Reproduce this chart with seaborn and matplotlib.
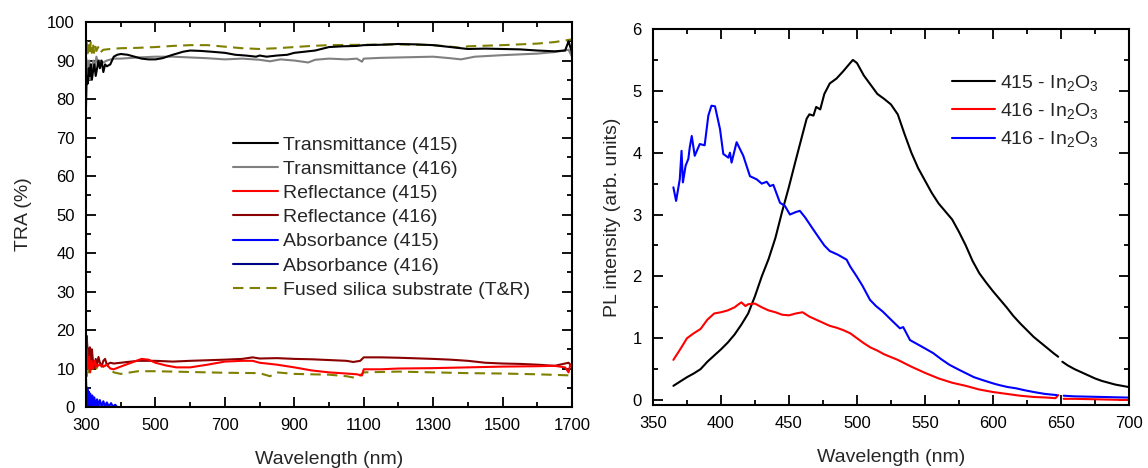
import numpy as np
import pandas as pd
import matplotlib
matplotlib.use("Agg")
import matplotlib.pyplot as plt
import seaborn as sns
from matplotlib.ticker import MultipleLocator, FixedLocator
from matplotlib.lines import Line2D

# ---------------- Left panel data (TRA %) ----------------
t415_wl = [300,302,305,308,311,314,317,320,324,328,332,336,340,345,350,355,360,370,380,390,400,420,440,460,480,500,520,550,580,600,630,660,700,730,760,790,800,820,850,880,900,930,960,1000,1040,1080,1100,1150,1200,1250,1300,1340,1380,1400,1450,1500,1550,1600,1650,1680,1690,1695,1700]
t415 = [78,86,84,88,86,89,85,87,89,86,88,90,88,90,87,89,88.5,89,91,91.5,91.7,91.5,91,90.5,90.3,90.3,90.6,91.5,92.3,92.6,92.5,92.3,92,91.5,91.3,91,91.3,91,91.3,91.5,92,92.3,92.6,93.5,93.7,93.8,94,94.1,94.3,94.2,94,93.6,93.2,93,93.1,93,92.9,92.6,92.4,92.6,95,93.5,92]

t416_wl = [300,303,306,309,312,315,318,321,325,330,335,340,350,360,380,400,450,500,550,600,650,700,750,800,830,860,900,940,960,1000,1050,1080,1095,1100,1150,1200,1300,1350,1380,1420,1500,1600,1650,1690,1700]
t416 = [88,90,86,90,85,89,87,90,88,91,89,90,89.5,90,90.5,90.5,90.8,91,91,90.8,90.6,90.3,90.5,90.2,89.8,90.3,90,89.5,90.2,90.5,90.3,90.5,89.7,90.5,90.7,90.8,91,90.6,90.3,91,91.4,91.8,92.2,92.8,91]

r415_wl = [300,303,306,309,312,316,320,325,330,340,350,360,370,380,400,430,460,480,500,530,560,600,650,700,750,780,800,850,900,950,1000,1050,1080,1095,1100,1150,1200,1300,1400,1500,1600,1650,1680,1690,1695,1700]
r415 = [12,15,10,13,9,12,10,12,10.5,11,10.5,11,10,9.8,10.5,11.5,12.5,12.3,11.5,10.8,10.3,10.3,11,11.8,12,12,11.5,11,10.3,9.5,9,8.7,8.5,8.2,9.8,9.8,10,10.1,10.3,10.5,10.6,10.7,10.3,9,11,10.5]

r416_wl = [300,302,305,308,311,314,317,320,324,328,332,336,340,345,350,355,360,370,380,400,450,500,550,600,700,750,780,800,850,900,950,1000,1050,1070,1090,1100,1150,1200,1300,1350,1400,1450,1500,1550,1600,1650,1690,1700]
r416 = [17,18.5,14,11,15.5,12,15,12,10,12.5,11,13,11.5,10.5,12,12.5,11,11.5,11.3,11.5,12,12,11.8,12,12.3,12.5,12.9,12.6,12.7,12.5,12.4,12.2,12,11.7,12,12.9,12.9,12.8,12.5,12.3,12,11.5,11.3,11.2,11,10.7,11.5,10.5]

a415_wl = [300,302,304,306,308,310,312,315,318,321,324,328,332,336,340,345,350,355,360,366,372,378,384,390]
a415 = [7.5,2,5,0.5,4,1,3.5,0.5,3,0.3,2.5,0.2,2,0.2,1.8,0.2,1.5,0.1,1.2,0.1,1,0.1,0.6,0]

a416_wl = [300,303,306,310,315,320,330,340,360,380]
a416 = [3,0.5,2,0.3,1,0.2,0.5,0.1,0.2,0]

subT_wl = [300,302,305,308,311,314,317,320,323,326,330,335,340,350,370,400,450,500,550,600,650,700,750,800,850,900,950,1000,1100,1200,1300,1350,1380,1400,1500,1600,1650,1700]
subT = [88,95.5,91,94,92,95,92,94.5,92,94,92.5,93.5,92,92.8,93,93.2,93.3,93.5,93.8,94,94,93.6,93.2,93,93.2,93.5,93.8,94,94.1,94.2,94,93.6,93.3,93.7,94,94.4,94.8,95.5]

subR_wl = [300,302,305,308,311,314,317,320,325,330,340,350,360,370,380,400,450,500,600,700,800,830,850,900,1000,1050,1080,1100,1200,1300,1400,1500,1600,1700]
subR = [14,8,12,9,13,10,12,9.5,11.5,10,11.5,10.5,11,9.8,9,8.6,9.3,9.3,9.1,8.9,8.8,8,9,8.6,8.4,8,7.5,9,9.2,9,8.8,8.7,8.5,8.2]

left_labels = ["Transmittance (415)", "Transmittance (416)", "Reflectance (415)",
               "Reflectance (416)", "Absorbance (415)", "Absorbance (416)",
               "Fused silica substrate (T&R)"]
left_xticks = [300, 500, 700, 900, 1100, 1300, 1500, 1700]

# ---------------- Right panel data (PL) ----------------
pl415_wl_a = [365,370,375,380,385,390,395,400,405,410,415,420,425,430,435,440,445,450,455,460,463,465,468,470,473,476,480,485,490,495,497,500,505,510,515,520,525,530,535,540,545,550,555,560,565,570,575,580,585,590,595,600,605,610,615,620,625,630,635,640,645,648]
pl415_a = [0.23,0.3,0.37,0.43,0.5,0.62,0.72,0.82,0.93,1.06,1.22,1.4,1.68,2.0,2.28,2.62,3.05,3.45,3.88,4.3,4.55,4.62,4.6,4.74,4.7,4.95,5.12,5.2,5.32,5.45,5.5,5.45,5.25,5.1,4.95,4.87,4.78,4.62,4.3,4.0,3.75,3.55,3.35,3.18,3.05,2.92,2.72,2.5,2.25,2.05,1.9,1.76,1.63,1.5,1.36,1.24,1.13,1.02,0.93,0.84,0.75,0.70]
pl415_wl_b = [651,655,660,665,670,675,680,685,690,695,700]
pl415_b = [0.62,0.56,0.5,0.45,0.4,0.35,0.31,0.28,0.25,0.23,0.21]

pl416r_wl_a = [365,370,375,380,385,390,395,400,405,410,413,415,418,420,425,430,435,440,445,450,455,460,465,470,475,480,485,490,495,500,505,510,515,520,530,540,550,560,570,580,590,600,610,620,630,640,646,648]
pl416r_a = [0.65,0.82,1.0,1.08,1.15,1.3,1.4,1.42,1.45,1.5,1.55,1.58,1.52,1.55,1.56,1.5,1.45,1.42,1.38,1.37,1.4,1.42,1.35,1.3,1.25,1.2,1.17,1.13,1.08,1.0,0.92,0.85,0.8,0.74,0.65,0.54,0.44,0.35,0.28,0.23,0.17,0.13,0.1,0.07,0.05,0.04,0.03,0.08]
pl416r_wl_b = [652,660,680,700]
pl416r_b = [0.02,0.02,0.01,0.0]

pl416b_wl_a = [365,367,369.7,371,372,374,376,377,378.5,380.7,384.4,388,390.7,393,395.6,399.3,401.7,405.4,406.6,407.8,411.5,416.4,421.3,426.2,430,433.6,436,438.5,443.4,447,450.7,455,458,462,467.8,472.8,476,480,486,492.4,495,499.8,504,509.6,514,519,525,531.6,534,539,548,556,562,568,575,580.5,586,592.8,600,605,611,617,623,630,638,647]
pl416b_a = [3.44,3.22,3.57,4.03,3.52,3.79,3.9,4.08,4.27,3.95,4.14,4.12,4.6,4.76,4.75,4.38,3.98,3.92,4.0,3.84,4.17,3.95,3.62,3.57,3.5,3.53,3.46,3.48,3.19,3.14,3.0,3.04,3.06,2.95,2.76,2.6,2.5,2.41,2.35,2.27,2.16,2.0,1.85,1.62,1.52,1.43,1.3,1.16,1.18,0.97,0.86,0.76,0.66,0.57,0.49,0.43,0.37,0.32,0.27,0.24,0.21,0.19,0.16,0.13,0.1,0.08]
pl416b_wl_b = [652,660,680,700]
pl416b_b = [0.07,0.06,0.05,0.04]

right_labels = ["415 - In$_2$O$_3$", "416 - In$_2$O$_3$", "416 - In$_2$O$_3$"]

# ---------------- Styling ----------------
sns.set_theme(style="ticks")
plt.rcParams.update({
    "font.family": ["Liberation Sans", "DejaVu Sans"],
    "mathtext.fontset": "custom",
    "mathtext.rm": "Liberation Sans",
    "mathtext.it": "Liberation Sans:italic",
    "mathtext.default": "regular",
    "axes.edgecolor": "black", "axes.linewidth": 1.5,
})

fig = plt.figure(figsize=(11.48, 4.68), dpi=100)
axL = fig.add_axes([0.0749, 0.1303, 0.4234, 0.8226])
axR = fig.add_axes([0.5688, 0.1346, 0.4146, 0.8034])

LW = 1.5
def line(ax, x, y, color, ls="-"):
    sns.lineplot(x=x, y=y, ax=ax, color=color, lw=LW,
                 estimator=None, sort=False, linestyle=ls, legend=False)

olive = "#808000"
dash = (0, (5, 3))
line(axL, subT_wl, subT, olive, ls=dash)
line(axL, subR_wl, subR, olive, ls=dash)
line(axL, t416_wl, t416, "#808080")
line(axL, t415_wl, t415, "black")
line(axL, r416_wl, r416, "#8B0000")
line(axL, r415_wl, r415, "red")
line(axL, a416_wl, a416, "#00008B")
line(axL, a415_wl, a415, "blue")

hL = [Line2D([], [], color=c, lw=LW, ls=s) for c, s in
      [("black", "-"), ("#808080", "-"), ("red", "-"), ("#8B0000", "-"),
       ("blue", "-"), ("#00008B", "-"), (olive, dash)]]
axL.legend(hL, left_labels, loc="upper left", bbox_to_anchor=(0.3025, 0.704),
           frameon=False, fontsize=14, handlelength=2.3, handletextpad=0.26,
           labelspacing=0.34, borderaxespad=0, borderpad=0)

line(axR, pl415_wl_a, pl415_a, "black")
line(axR, pl415_wl_b, pl415_b, "black")
line(axR, pl416r_wl_a, pl416r_a, "red")
line(axR, pl416r_wl_b, pl416r_b, "red")
line(axR, pl416b_wl_a, pl416b_a, "blue")
line(axR, pl416b_wl_b, pl416b_b, "blue")
hR = [Line2D([], [], color=c, lw=LW) for c in ["black", "red", "blue"]]
axR.legend(hR, right_labels, loc="upper left", bbox_to_anchor=(0.628, 0.883),
           frameon=False, fontsize=14, handlelength=2.2, handletextpad=0.26,
           labelspacing=0.42, borderaxespad=0, borderpad=0)

axL.set_xlim(300, 1700)
axL.set_ylim(0, 100)
axL.xaxis.set_major_locator(FixedLocator(left_xticks))
axL.xaxis.set_minor_locator(MultipleLocator(100))
axL.yaxis.set_major_locator(MultipleLocator(10))
axL.yaxis.set_minor_locator(MultipleLocator(5))
axL.set_xlabel("Wavelength (nm)", fontsize=14, labelpad=13)
axL.set_ylabel("TRA (%)", fontsize=14, labelpad=11)

axR.set_xlim(350, 700)
axR.set_ylim(-0.08, 6)
axR.xaxis.set_major_locator(MultipleLocator(50))
axR.xaxis.set_minor_locator(MultipleLocator(25))
axR.yaxis.set_major_locator(MultipleLocator(1))
axR.yaxis.set_minor_locator(MultipleLocator(0.5))
axR.set_xlabel("Wavelength (nm)", fontsize=14, labelpad=13)
axR.set_ylabel("PL intensity (arb. units)", fontsize=14, labelpad=8)

for ax in (axL, axR):
    for sp in ax.spines.values():
        sp.set_visible(True)
        sp.set_linewidth(1.5)
        sp.set_color("black")
    ax.tick_params(which="both", direction="in", top=True, right=True,
                   bottom=True, left=True, labeltop=False, labelright=False,
                   color="black", labelcolor="black", labelsize=12,
                   width=1.3, pad=8)
    ax.tick_params(which="major", length=7)
    ax.tick_params(which="minor", length=3.5)

fig.savefig("out.png", dpi=100)
